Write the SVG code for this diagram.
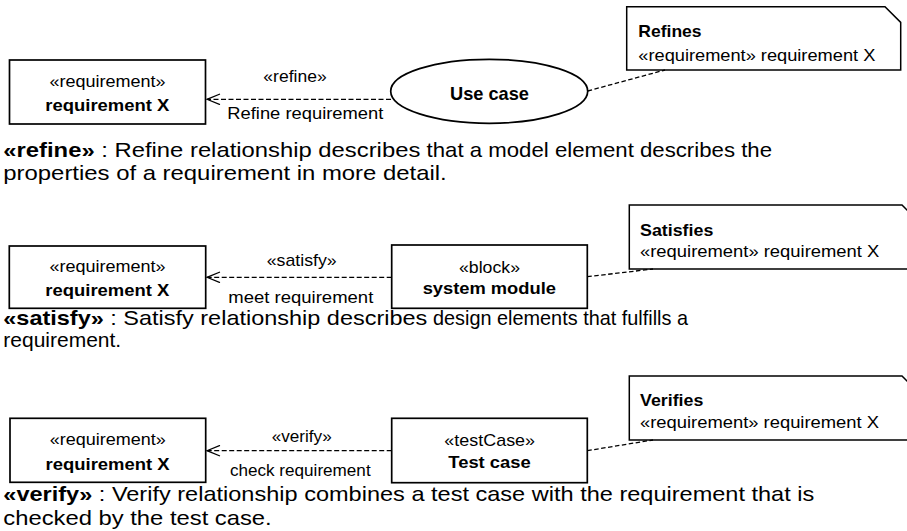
<svg xmlns="http://www.w3.org/2000/svg" width="907" height="531" viewBox="0 0 907 531">
  <style>
    text { font-family: "Liberation Sans", Arial, sans-serif; fill: #000; }
    .n { font-size: 17px; }
    .b { font-weight: bold; }
    .lbl { font-size: 17px; }
    .body { font-size: 21px; }
    .box { fill: #fff; stroke: #000; stroke-width: 1.7; }
    .note { fill: #fff; stroke: #000; stroke-width: 1.5; }
    .dep { fill: none; stroke: #000; stroke-width: 1.2; stroke-dasharray: 5 2.5; }
    .anchor { fill: none; stroke: #000; stroke-width: 1.3; stroke-dasharray: 4.5 2.5; }
  </style>
  <defs>
    <!-- open arrowhead for dependencies, tip at the line end -->
    <marker id="open" viewBox="0 0 15 12" refX="14" refY="6" markerWidth="15" markerHeight="12" markerUnits="userSpaceOnUse" orient="auto">
      <path d="M1,0.7 L14,6 L1,11.3" fill="none" stroke="#000" stroke-width="1.3"/>
    </marker>
  </defs>

  <!-- refine -->
  <g id="req-refine">
    <rect class="box" x="9.5" y="60" width="196" height="64"/>
    <text class="n" x="107.5" y="87.3" text-anchor="middle" textLength="116" lengthAdjust="spacingAndGlyphs">«requirement»</text>
    <text class="n b" x="107.3" y="111" text-anchor="middle" textLength="124" lengthAdjust="spacingAndGlyphs">requirement X</text>
  </g>
  <g id="use-case">
    <ellipse class="box" cx="489.2" cy="91.3" rx="98.5" ry="32" stroke-width="1.5"/>
    <text class="b" x="489.5" y="100" text-anchor="middle" font-size="19" textLength="79" lengthAdjust="spacingAndGlyphs">Use case</text>
  </g>
  <g id="note-refines">
    <path class="note" d="M626.7,6.7 H885 L900.7,22.4 V70 H626.7 Z"/>
    <text class="n b" x="638.3" y="37" textLength="63.3" lengthAdjust="spacingAndGlyphs">Refines</text>
    <text class="n" x="638.3" y="61" textLength="237" lengthAdjust="spacingAndGlyphs">«requirement» requirement X</text>
  </g>

  <!-- satisfy -->
  <g id="req-satisfy">
    <rect class="box" x="9.3" y="246" width="196.4" height="62.3"/>
    <text class="n" x="107.5" y="271.7" text-anchor="middle" textLength="116" lengthAdjust="spacingAndGlyphs">«requirement»</text>
    <text class="n b" x="107.3" y="295.7" text-anchor="middle" textLength="124" lengthAdjust="spacingAndGlyphs">requirement X</text>
  </g>
  <g id="system-module">
    <rect class="box" x="391.7" y="245" width="195.6" height="63.3"/>
    <text class="n" x="489.5" y="273.3" text-anchor="middle" textLength="61" lengthAdjust="spacingAndGlyphs">«block»</text>
    <text class="n b" x="489.3" y="294" text-anchor="middle" textLength="133.3" lengthAdjust="spacingAndGlyphs">system module</text>
  </g>
  <g id="note-satisfies">
    <path class="note" d="M629.3,205 H902 L918,221 V269 H629.3 Z"/>
    <text class="n b" x="640" y="236" textLength="73.3" lengthAdjust="spacingAndGlyphs">Satisfies</text>
    <text class="n" x="640" y="256.7" textLength="239.3" lengthAdjust="spacingAndGlyphs">«requirement» requirement X</text>
  </g>

  <!-- verify -->
  <g id="req-verify">
    <rect class="box" x="10" y="418.3" width="195.7" height="64"/>
    <text class="n" x="107.8" y="445" text-anchor="middle" textLength="116" lengthAdjust="spacingAndGlyphs">«requirement»</text>
    <text class="n b" x="107.6" y="470" text-anchor="middle" textLength="124" lengthAdjust="spacingAndGlyphs">requirement X</text>
  </g>
  <g id="test-case">
    <rect class="box" x="391.7" y="418.3" width="195.6" height="64.4"/>
    <text class="n" x="489.7" y="446" text-anchor="middle" textLength="90.7" lengthAdjust="spacingAndGlyphs">«testCase»</text>
    <text class="n b" x="489.5" y="468.3" text-anchor="middle" textLength="82.4" lengthAdjust="spacingAndGlyphs">Test case</text>
  </g>
  <g id="note-verifies">
    <path class="note" d="M629.3,376 H902 L918,392 V440 H629.3 Z"/>
    <text class="n b" x="640" y="406" textLength="63.3" lengthAdjust="spacingAndGlyphs">Verifies</text>
    <text class="n" x="640" y="428.3" textLength="239" lengthAdjust="spacingAndGlyphs">«requirement» requirement X</text>
  </g>

  <!-- connectors -->
  <g id="connectors">
    <line class="dep" x1="391" y1="99.3" x2="207" y2="99.3" marker-end="url(#open)"/>
    <text class="lbl" x="295" y="81.7" text-anchor="middle" textLength="63.3" lengthAdjust="spacingAndGlyphs">«refine»</text>
    <text class="lbl" x="305.3" y="119" text-anchor="middle" textLength="156" lengthAdjust="spacingAndGlyphs">Refine requirement</text>
    <line class="anchor" x1="587.7" y1="91" x2="665" y2="70"/>

    <line class="dep" x1="391.7" y1="277.3" x2="207" y2="277.3" marker-end="url(#open)"/>
    <text class="lbl" x="301.7" y="266" text-anchor="middle" textLength="70" lengthAdjust="spacingAndGlyphs">«satisfy»</text>
    <text class="lbl" x="300.8" y="302.7" text-anchor="middle" textLength="145" lengthAdjust="spacingAndGlyphs">meet requirement</text>
    <line class="anchor" x1="587.3" y1="276.7" x2="653" y2="269"/>

    <line class="dep" x1="391.7" y1="450.7" x2="207" y2="450.7" marker-end="url(#open)"/>
    <text class="lbl" x="301.7" y="441.7" text-anchor="middle" textLength="60" lengthAdjust="spacingAndGlyphs">«verify»</text>
    <text class="lbl" x="300.3" y="476" text-anchor="middle" textLength="140.7" lengthAdjust="spacingAndGlyphs">check requirement</text>
    <line class="anchor" x1="587.3" y1="450.7" x2="653" y2="440"/>
  </g>

  <!-- descriptions -->
  <g id="descriptions">
    <text class="body" y="157"><tspan x="3.3" textLength="417" lengthAdjust="spacingAndGlyphs"><tspan class="b">«refine»</tspan> : Refine relationship describes</tspan><tspan x="426.6" textLength="345.4" lengthAdjust="spacingAndGlyphs">that a model element describes the</tspan></text>
    <text class="body" x="3.3" y="180" textLength="443.4" lengthAdjust="spacingAndGlyphs">properties of a requirement in more detail.</text>
    <text class="body" y="324.5"><tspan x="3.3" textLength="424" lengthAdjust="spacingAndGlyphs"><tspan class="b">«satisfy»</tspan> : Satisfy relationship describes</tspan><tspan x="433" textLength="255" lengthAdjust="spacingAndGlyphs">design elements that fulfills a</tspan></text>
    <text class="body" x="3.3" y="347">requirement.</text>
    <text class="body" x="3.3" y="500.7" textLength="811" lengthAdjust="spacingAndGlyphs"><tspan class="b">«verify»</tspan> : Verify relationship combines a test case with the requirement that is</text>
    <text class="body" x="3.3" y="525" textLength="268.4" lengthAdjust="spacingAndGlyphs">checked by the test case.</text>
  </g>
</svg>
